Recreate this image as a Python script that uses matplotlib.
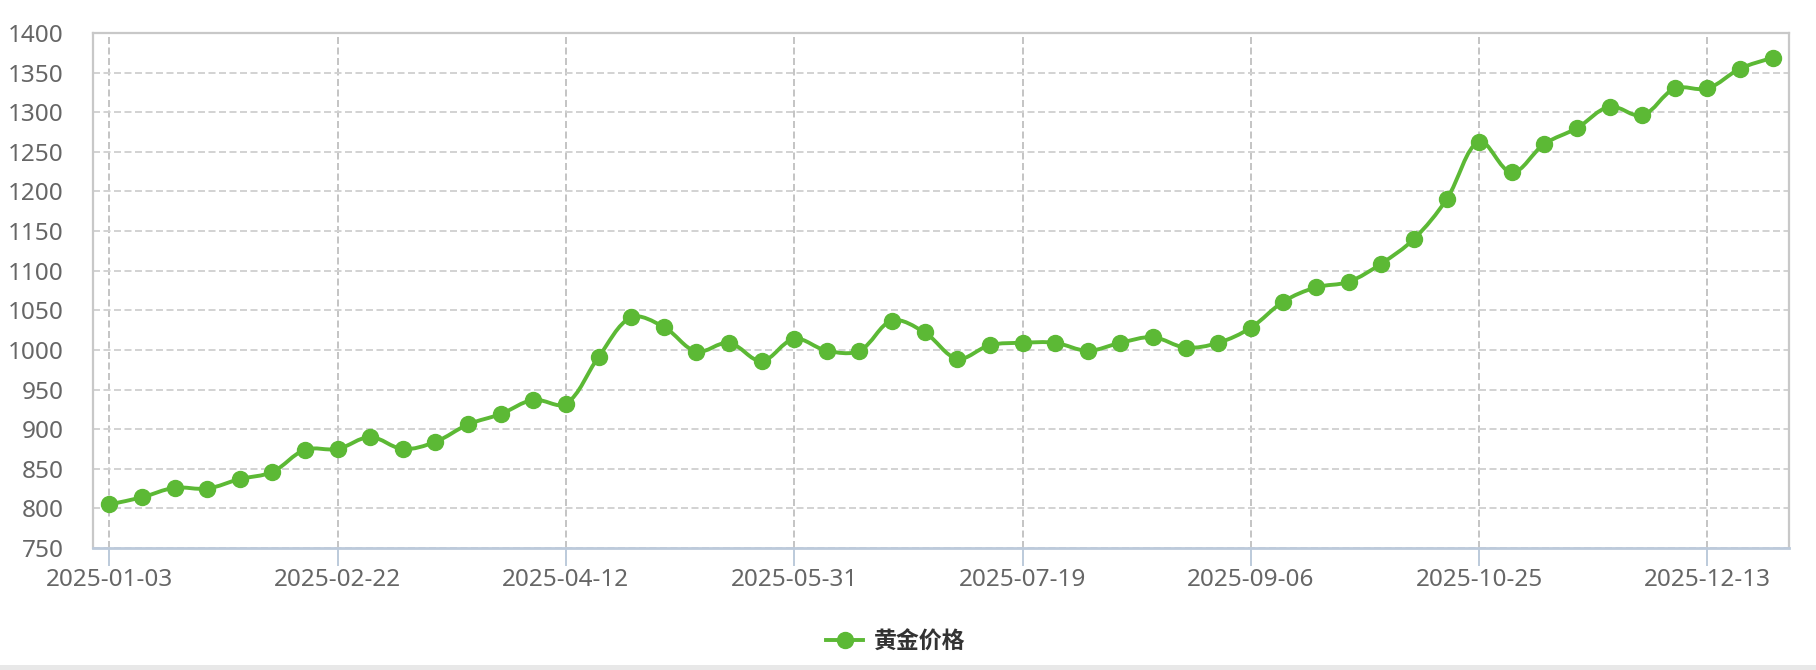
"""
黄金价格走势 (2025)
"""

import numpy as np
import matplotlib.pyplot as plt
from matplotlib.path import Path
from matplotlib.patches import PathPatch
from matplotlib.lines import Line2D


dates = ['2025-01-03', '2025-01-10', '2025-01-17', '2025-01-24', '2025-01-31',
         '2025-02-08', '2025-02-15', '2025-02-22', '2025-03-01', '2025-03-08',
         '2025-03-15', '2025-03-22', '2025-03-29', '2025-04-05', '2025-04-12',
         '2025-04-19', '2025-04-26', '2025-05-03', '2025-05-10', '2025-05-17',
         '2025-05-24', '2025-05-31', '2025-06-07', '2025-06-14', '2025-06-21',
         '2025-06-28', '2025-07-05', '2025-07-12', '2025-07-19', '2025-07-26',
         '2025-08-02', '2025-08-09', '2025-08-16', '2025-08-23', '2025-08-30',
         '2025-09-06', '2025-09-13', '2025-09-20', '2025-09-27', '2025-10-04',
         '2025-10-11', '2025-10-18', '2025-10-25', '2025-11-01', '2025-11-08',
         '2025-11-15', '2025-11-22', '2025-11-29', '2025-12-06', '2025-12-13',
         '2025-12-20', '2025-12-27']

price = [805, 814, 826, 825, 837, 846, 874, 875, 890, 875,
         884, 906, 919, 937, 932, 991, 1041, 1029, 998, 1009,
         986, 1014, 999, 999, 1037, 1022, 989, 1006, 1009, 1009,
         999, 1009, 1016, 1003, 1009, 1028, 1061, 1079, 1086, 1109,
         1140, 1190, 1263, 1224, 1260, 1280, 1307, 1296, 1330, 1330,
         1355, 1369]

yticks = list(range(750, 1401, 50))

green = '#5cb935'
label_gray = '#666666'

plt.rcParams['font.family'] = ['Noto Sans', 'Noto Sans CJK SC', 'DejaVu Sans']

fig = plt.figure(figsize=(18.16, 6.70), dpi=100)
ax = fig.add_axes([93 / 1816, 1 - 548 / 670, (1789 - 93) / 1816, (548 - 33) / 670])

x = np.arange(len(price))
y = np.array(price, dtype=float)

# сглаженная линия (как smooth в echarts) - кривые Безье в "пиксельном" масштабе
k = (515 / 650) / (1696 / 52)
ys = y * k
smooth = 0.35
verts = [(x[0], y[0])]
codes = [Path.MOVETO]
cps = []
n = len(x)
for i in range(n):
    p = np.array([x[i], ys[i]])
    prev = np.array([x[i - 1], ys[i - 1]]) if i > 0 else p
    nxt = np.array([x[i + 1], ys[i + 1]]) if i < n - 1 else p
    v = (nxt - prev) * smooth
    d0 = np.linalg.norm(p - prev)
    d1 = np.linalg.norm(nxt - p)
    s = d0 + d1
    if s > 0:
        d0, d1 = d0 / s, d1 / s
    cps.append((p - v * d0, p + v * d1))
for i in range(n - 1):
    c1 = cps[i][1]
    c2 = cps[i + 1][0]
    verts += [(c1[0], c1[1] / k), (c2[0], c2[1] / k), (x[i + 1], y[i + 1])]
    codes += [Path.CURVE4] * 3
ax.add_patch(PathPatch(Path(verts, codes), facecolor='none', edgecolor=green,
                       lw=2.8, zorder=3, capstyle='round', joinstyle='round'))
ax.plot(x, y, linestyle='none', marker='o', markersize=11.5, color=green, zorder=4)

ax.set_xlim(-0.5, len(price) - 0.5)
ax.set_ylim(750, 1400)
ax.set_yticks(yticks)
ax.set_xticks(x[::7])
ax.set_xticklabels(dates[::7])

ax.grid(axis='y', linestyle=(0, (3.6, 1.8)), linewidth=1.4, color='#d2d2d2', zorder=1)
ax.grid(axis='x', linestyle=(0, (3.6, 1.8)), linewidth=1.4, color='#c4c4c4', zorder=1)

for side in ['top', 'right', 'left']:
    ax.spines[side].set_color('#c8c8c8')
    ax.spines[side].set_linewidth(1.6)
ax.spines['bottom'].set_color('#bccadb')
ax.spines['bottom'].set_linewidth(2)

ax.tick_params(axis='y', length=0, pad=21, labelsize=17.5, labelcolor=label_gray)
ax.tick_params(axis='x', length=13, width=1.4, color='#bccadb', pad=1.5,
               labelsize=17.5, labelcolor=label_gray)

handle = Line2D([], [], color=green, lw=2.8, marker='o', markersize=11.5)
fig.legend([handle], ['黄金价格'], loc='center', bbox_to_anchor=(896 / 1816, 1 - 642 / 670),
           frameon=False, handlelength=1.6, handletextpad=0.5,
           prop={'family': ['Noto Sans CJK SC'], 'size': 16.5, 'weight': 'bold'},
           labelcolor='#333333')

# серая полоса по нижнему краю
fig.add_artist(plt.Rectangle((0, 0), 1, 5 / 670, transform=fig.transFigure,
                             color='#e8e8e8', lw=0))

plt.savefig('out.png', dpi=100)
